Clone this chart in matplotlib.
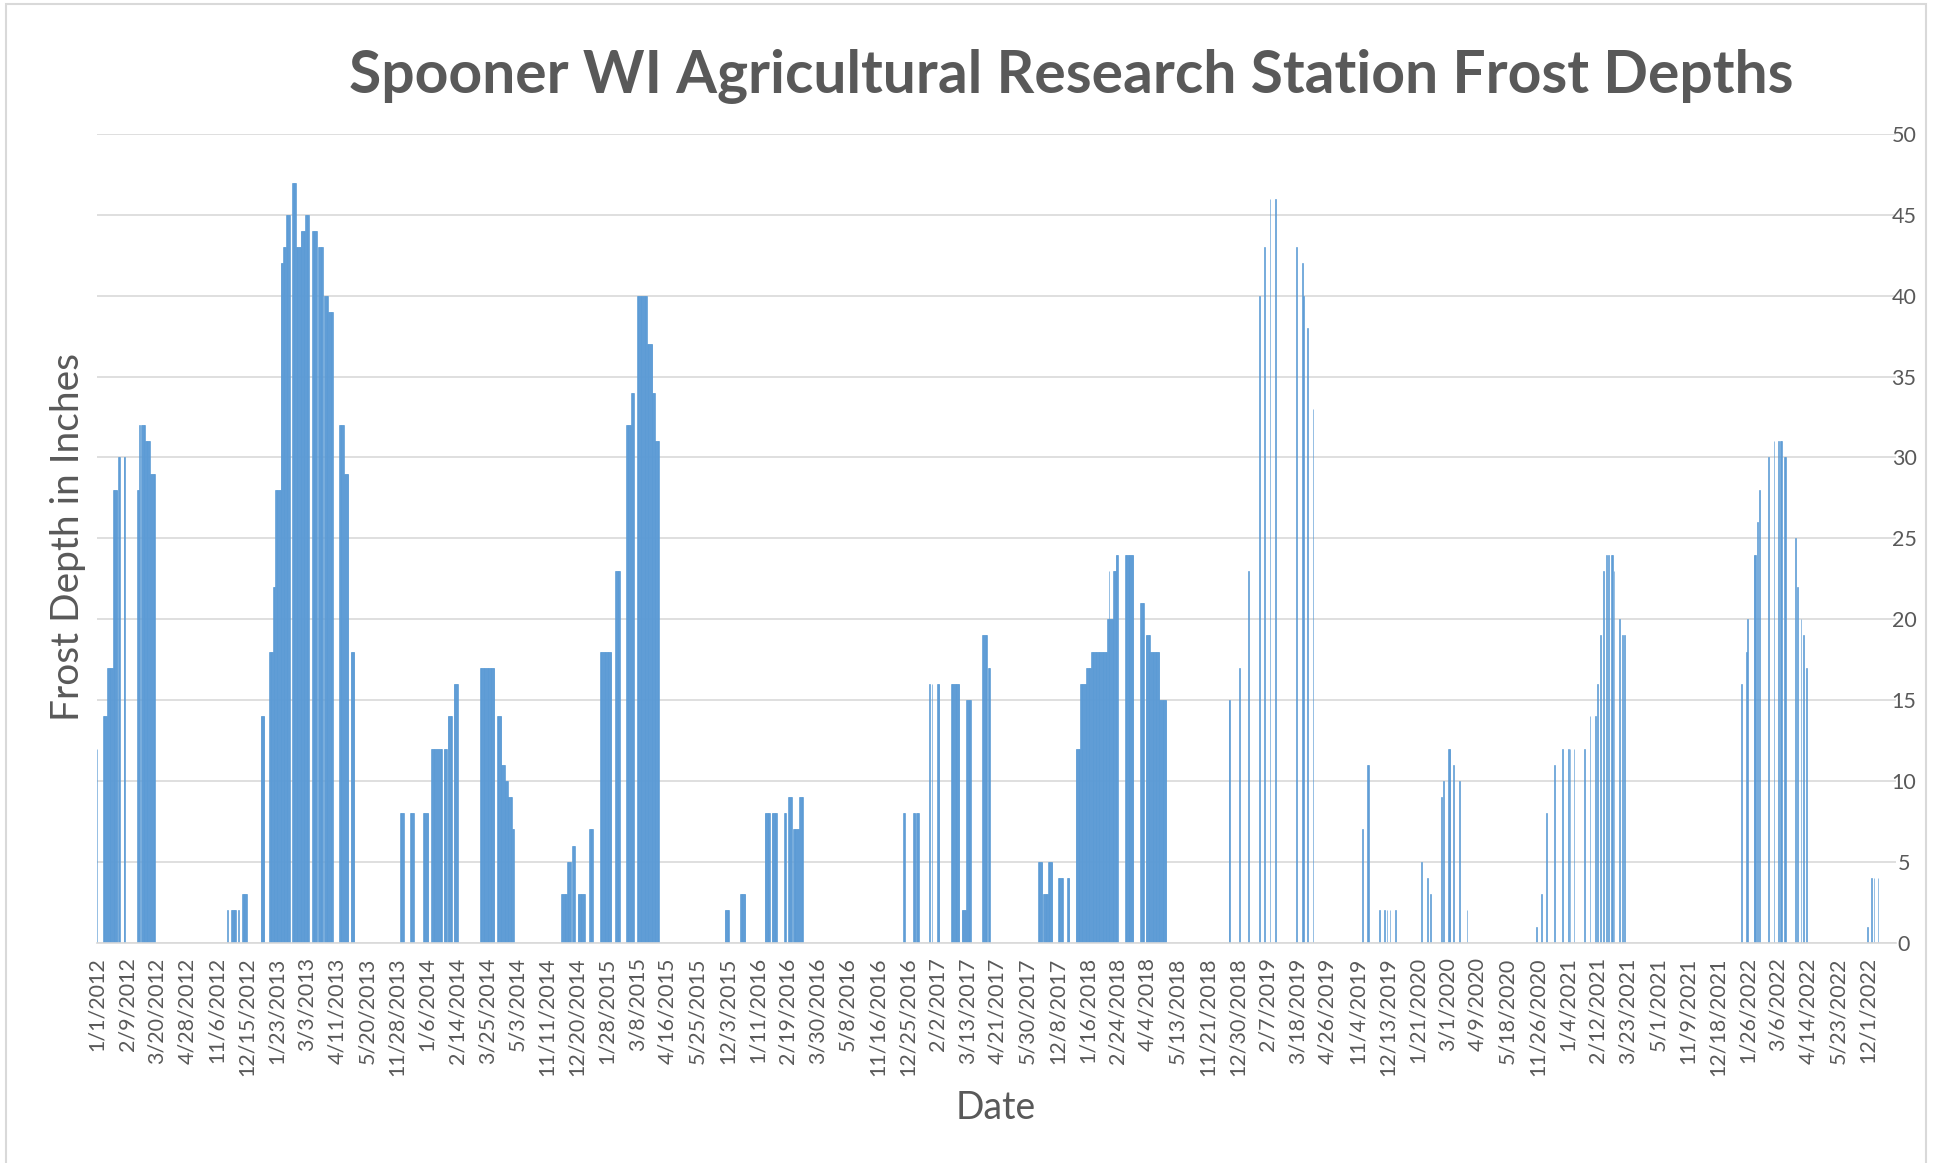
import numpy as np
import pandas as pd
import matplotlib
matplotlib.use("Agg")
import matplotlib.pyplot as plt
from matplotlib.patches import Rectangle

plt.rcParams['font.family'] = ['Lato', 'DejaVu Sans']

# ---- data -----------------------------------------------------------
# rows of the sheet: daily dates, winter seasons only (Feb 29 not in sheet)
SEASON_START = ["2012-01-01", "2012-11-01", "2013-11-01", "2014-11-01", "2015-11-01",
                "2016-11-01", "2017-11-01", "2018-11-01", "2019-11-01", "2020-11-01",
                "2021-11-01", "2022-11-01"]
SEASON_END = ["2012-05-31", "2013-05-31", "2014-05-31", "2015-05-31", "2016-05-31",
              "2017-05-31", "2018-05-31", "2019-05-31", "2020-05-31", "2021-05-31",
              "2022-05-31", "2022-12-31"]

# frost depth (inches): (first day, last day, depth)
W2012 = [("2012-01-01", "2012-01-01", 12), ("2012-01-09", "2012-01-13", 14),
         ("2012-01-15", "2012-01-21", 17), ("2012-01-22", "2012-01-27", 28),
         ("2012-01-29", "2012-01-30", 30), ("2012-02-05", "2012-02-06", 30),
         ("2012-02-23", "2012-02-24", 28), ("2012-02-25", "2012-02-25", 32),
         ("2012-02-28", "2012-03-04", 32), ("2012-03-05", "2012-03-10", 31),
         ("2012-03-12", "2012-03-17", 29)]
W2013 = [("2012-11-20", "2012-11-20", 2), ("2012-11-25", "2012-11-30", 2),
         ("2012-12-04", "2012-12-04", 2), ("2012-12-09", "2012-12-14", 3),
         ("2013-01-02", "2013-01-06", 14), ("2013-01-13", "2013-01-17", 18),
         ("2013-01-18", "2013-01-20", 22), ("2013-01-21", "2013-01-27", 28),
         ("2013-01-28", "2013-01-30", 42), ("2013-01-31", "2013-02-03", 43),
         ("2013-02-04", "2013-02-08", 45), ("2013-02-12", "2013-02-16", 47),
         ("2013-02-17", "2013-02-22", 43), ("2013-02-23", "2013-02-28", 44),
         ("2013-03-01", "2013-03-05", 45), ("2013-03-10", "2013-03-15", 44),
         ("2013-03-18", "2013-03-23", 43), ("2013-03-26", "2013-03-30", 40),
         ("2013-03-31", "2013-04-05", 39), ("2013-04-14", "2013-04-19", 32),
         ("2013-04-21", "2013-04-25", 29), ("2013-04-29", "2013-05-03", 18)]
W2014 = [("2013-12-02", "2013-12-06", 8), ("2013-12-15", "2013-12-19", 8),
         ("2014-01-01", "2014-01-07", 8), ("2014-01-12", "2014-01-19", 12),
         ("2014-01-21", "2014-01-25", 12), ("2014-01-28", "2014-01-31", 12),
         ("2014-02-02", "2014-02-07", 14), ("2014-02-10", "2014-02-14", 16),
         ("2014-03-16", "2014-04-03", 17), ("2014-04-07", "2014-04-12", 14),
         ("2014-04-13", "2014-04-16", 11), ("2014-04-17", "2014-04-20", 10),
         ("2014-04-21", "2014-04-26", 9), ("2014-04-27", "2014-04-28", 7)]
W2015 = [("2014-11-30", "2014-12-06", 3), ("2014-12-07", "2014-12-11", 5),
         ("2014-12-14", "2014-12-16", 6), ("2014-12-21", "2014-12-29", 3),
         ("2015-01-05", "2015-01-09", 7), ("2015-01-19", "2015-02-02", 18),
         ("2015-02-08", "2015-02-13", 23), ("2015-02-22", "2015-02-27", 32),
         ("2015-03-01", "2015-03-03", 34), ("2015-03-08", "2015-03-20", 40),
         ("2015-03-21", "2015-03-27", 37), ("2015-03-28", "2015-03-30", 34),
         ("2015-03-31", "2015-04-05", 31)]
W2016 = [("2015-11-30", "2015-12-05", 2), ("2015-12-20", "2015-12-26", 3),
         ("2016-01-21", "2016-01-27", 8), ("2016-01-30", "2016-02-05", 8),
         ("2016-02-15", "2016-02-17", 8), ("2016-02-21", "2016-02-24", 9),
         ("2016-02-27", "2016-03-05", 7), ("2016-03-07", "2016-03-11", 9)]
W2017 = [("2016-12-20", "2016-12-21", 8), ("2017-01-02", "2017-01-04", 8),
         ("2017-01-06", "2017-01-08", 8), ("2017-01-23", "2017-01-23", 16),
         ("2017-01-26", "2017-01-26", 16), ("2017-02-02", "2017-02-04", 16),
         ("2017-02-20", "2017-03-02", 16), ("2017-03-06", "2017-03-10", 2),
         ("2017-03-12", "2017-03-17", 15), ("2017-04-02", "2017-04-07", 19),
         ("2017-04-09", "2017-04-11", 17)]
W2018 = [("2017-11-13", "2017-11-18", 5), ("2017-11-20", "2017-11-25", 3),
         ("2017-11-26", "2017-12-01", 5), ("2017-12-09", "2017-12-15", 4),
         ("2017-12-21", "2017-12-23", 4), ("2018-01-01", "2018-01-06", 12),
         ("2018-01-07", "2018-01-14", 16), ("2018-01-15", "2018-01-20", 17),
         ("2018-01-21", "2018-02-10", 18), ("2018-02-11", "2018-02-18", 20),
         ("2018-02-13", "2018-02-13", 23), ("2018-02-19", "2018-02-21", 23),
         ("2018-02-22", "2018-02-24", 24), ("2018-03-06", "2018-03-16", 24),
         ("2018-03-26", "2018-03-30", 21), ("2018-04-02", "2018-04-07", 19),
         ("2018-04-08", "2018-04-19", 18), ("2018-04-20", "2018-04-28", 15)]
W2019 = [("2018-12-19", "2018-12-20", 15), ("2019-01-01", "2019-01-01", 17),
         ("2019-01-13", "2019-01-13", 23), ("2019-01-27", "2019-01-27", 40),
         ("2019-02-03", "2019-02-03", 43), ("2019-02-10", "2019-02-10", 46),
         ("2019-02-17", "2019-02-17", 46), ("2019-03-17", "2019-03-17", 43),
         ("2019-03-24", "2019-03-24", 42), ("2019-03-26", "2019-03-26", 40),
         ("2019-03-31", "2019-03-31", 38), ("2019-04-07", "2019-04-07", 33)]
W2020 = [("2019-11-10", "2019-11-10", 7), ("2019-11-17", "2019-11-18", 11),
         ("2019-12-02", "2019-12-02", 2), ("2019-12-09", "2019-12-09", 2),
         ("2019-12-12", "2019-12-12", 2), ("2019-12-16", "2019-12-16", 2),
         ("2019-12-23", "2019-12-23", 2), ("2020-01-26", "2020-01-26", 5),
         ("2020-02-03", "2020-02-03", 4), ("2020-02-07", "2020-02-07", 3),
         ("2020-02-21", "2020-02-21", 9), ("2020-02-24", "2020-02-24", 10),
         ("2020-03-02", "2020-03-04", 12), ("2020-03-09", "2020-03-09", 11),
         ("2020-03-16", "2020-03-16", 10), ("2020-03-26", "2020-03-26", 2)]
W2021 = [("2020-11-24", "2020-11-24", 1), ("2020-12-01", "2020-12-01", 3),
         ("2020-12-07", "2020-12-07", 8), ("2020-12-18", "2020-12-18", 11),
         ("2020-12-28", "2020-12-28", 12), ("2021-01-05", "2021-01-05", 12),
         ("2021-01-07", "2021-01-07", 12), ("2021-01-12", "2021-01-12", 12),
         ("2021-01-26", "2021-01-26", 12), ("2021-02-02", "2021-02-02", 14),
         ("2021-02-09", "2021-02-09", 14), ("2021-02-12", "2021-02-12", 16),
         ("2021-02-16", "2021-02-16", 19), ("2021-02-19", "2021-02-19", 23),
         ("2021-02-23", "2021-02-23", 24), ("2021-02-26", "2021-02-26", 24),
         ("2021-03-02", "2021-03-03", 24), ("2021-03-05", "2021-03-05", 23),
         ("2021-03-12", "2021-03-12", 20), ("2021-03-16", "2021-03-16", 19),
         ("2021-03-19", "2021-03-19", 19)]
W2022 = [("2022-01-18", "2022-01-18", 16), ("2022-01-24", "2022-01-24", 18),
         ("2022-01-26", "2022-01-26", 20), ("2022-02-03", "2022-02-05", 24),
         ("2022-02-08", "2022-02-08", 26), ("2022-02-10", "2022-02-10", 28),
         ("2022-02-22", "2022-02-22", 30), ("2022-03-01", "2022-03-01", 31),
         ("2022-03-07", "2022-03-07", 31), ("2022-03-09", "2022-03-09", 31),
         ("2022-03-11", "2022-03-11", 31), ("2022-03-15", "2022-03-16", 30),
         ("2022-03-29", "2022-03-29", 25), ("2022-04-01", "2022-04-01", 22),
         ("2022-04-05", "2022-04-05", 20), ("2022-04-08", "2022-04-08", 19),
         ("2022-04-12", "2022-04-12", 17)]
W2023 = [("2022-11-30", "2022-11-30", 1), ("2022-12-06", "2022-12-06", 4),
         ("2022-12-09", "2022-12-09", 4), ("2022-12-14", "2022-12-14", 4)]

LABEL_EVERY = 39  # Excel tick-label interval (categories)

TITLE = "Spooner WI Agricultural Research Station Frost Depths"
YLABEL = "Frost Depth in Inches"
XLABEL = "Date"

# ---- build category axis ---------------------------------------------
parts = []
for s, e in zip(SEASON_START, SEASON_END):
    d = pd.date_range(s, e, freq="D")
    d = d[~((d.month == 2) & (d.day == 29))]
    parts.append(d)
dates = parts[0].append(parts[1:])
depth = pd.Series(np.nan, index=dates)
for season in (W2012, W2013, W2014, W2015, W2016, W2017, W2018, W2019,
               W2020, W2021, W2022, W2023):
    for a, b, v in season:
        depth.loc[a:b] = v

n = len(dates)
x = np.arange(n)
mask = depth.notna().to_numpy()

# ---- figure ---------------------------------------------------------------
W, H = 1935, 1163
fig = plt.figure(figsize=(W / 100, H / 100), dpi=100)
fig.patch.set_facecolor("white")

L, R, T, B = 96.6, 1896.0, 134.0, 942.7
ax = fig.add_axes([L / W, 1 - B / H, (R - L) / W, (B - T) / H])

TXT = "#595959"
GRID = "#D9D9D9"
BAR = "#5B9BD5"

ax.bar(x[mask], depth.to_numpy()[mask], width=1.0, color=BAR, edgecolor=BAR,
       linewidth=0.45, antialiased=True, zorder=2)

ax.set_xlim(-0.5, n - 0.5 + 6)
ax.set_ylim(0, 50)
ax.set_yticks(np.arange(0, 51, 5))
ax.yaxis.tick_right()
ax.yaxis.grid(True, color=GRID, linewidth=1.2)
ax.set_axisbelow(True)
for sp in ("top", "left", "right"):
    ax.spines[sp].set_visible(False)
ax.spines["bottom"].set_color(GRID)
ax.spines["bottom"].set_linewidth(1.2)

tick_idx = x[::LABEL_EVERY]
ax.set_xticks(tick_idx)
ax.set_xticklabels([f"{d.month}/{d.day}/{d.year}" for d in dates[::LABEL_EVERY]],
                   rotation=90, fontsize=15.5, color=TXT)
ax.tick_params(axis="x", length=0, pad=10.5)
ax.tick_params(axis="y", length=0, pad=5.8, labelsize=15.5, labelcolor=TXT)
for lab in ax.get_yticklabels():
    lab.set_horizontalalignment("center")

fig.text(1071 / W, 1 - 92.5 / H, TITLE, ha="center", va="baseline",
         fontsize=42.3, fontweight="bold", color=TXT)
fig.text(68 / W, 1 - 537 / H, YLABEL, rotation=90, ha="center", va="center",
         fontsize=28, color=TXT)
fig.text(996 / W, 1 - 1108 / H, XLABEL, ha="center", va="center",
         fontsize=27, color=TXT)

fig.add_artist(Rectangle((6 / W, -0.05), (1926 - 6) / W, 1.05 - 4 / H,
                         transform=fig.transFigure, fill=False,
                         edgecolor=GRID, linewidth=1.5))

fig.savefig("out.png", dpi=100, facecolor="white")
